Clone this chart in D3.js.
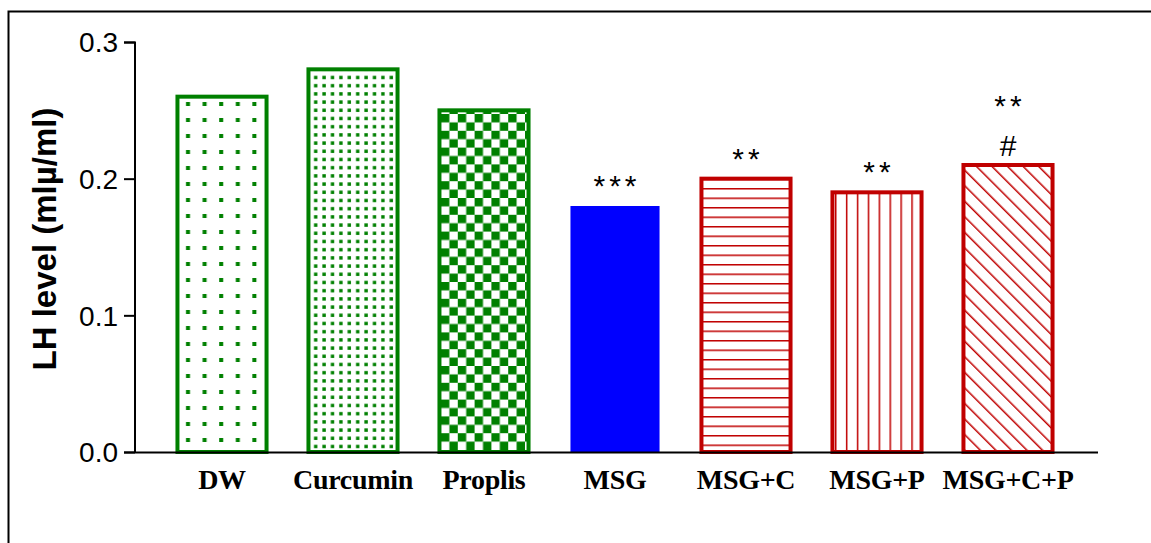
<!DOCTYPE html>
<html><head><meta charset="utf-8">
<script src="https://cdn.jsdelivr.net/npm/d3@7"></script>
<style>body{margin:0;background:#fff}svg{display:block}</style>
</head><body>
<svg id="c" width="1151" height="543"></svg>
<script>
const categories = ["DW","Curcumin","Proplis","MSG","MSG+C","MSG+P","MSG+C+P"];
const values = [0.26,0.28,0.25,0.18,0.20,0.19,0.21];
const patterns = ["dotsLarge","dotsSmall","checker","solid","hlines","vlines","diag"];
const colors = ["#008000","#008000","#008000","#0000ff","#c00000","#c00000","#c00000"];
const sigTop = ["","","","***","**","**","**"];
const sigHash = ["","","","","","","#"];
const yTicks = [0.0,0.1,0.2,0.3];

const svg = d3.select("#c");
const defs = svg.append("defs");
const G = "#008000", R = "#c00000";

// patterns
let p = defs.append("pattern").attr("id","dotsLarge").attr("patternUnits","userSpaceOnUse").attr("width",16.6).attr("height",16).attr("x",178).attr("y",0);
p.append("rect").attr("x",8).attr("y",6).attr("width",4).attr("height",4).attr("fill",G);
p = defs.append("pattern").attr("id","dotsSmall").attr("patternUnits","userSpaceOnUse").attr("width",8.4).attr("height",8.2).attr("x",310).attr("y",0);
p.append("rect").attr("x",4).attr("y",2).attr("width",3.4).attr("height",3.4).attr("fill",G);
p = defs.append("pattern").attr("id","checker").attr("patternUnits","userSpaceOnUse").attr("width",16.8).attr("height",16.8).attr("x",441).attr("y",114);
p.append("rect").attr("width",8.4).attr("height",8.4).attr("fill",G);
p.append("rect").attr("x",8.4).attr("y",8.4).attr("width",8.4).attr("height",8.4).attr("fill",G);
p = defs.append("pattern").attr("id","hlines").attr("patternUnits","userSpaceOnUse").attr("width",10).attr("height",9.5).attr("x",0).attr("y",188);
p.append("rect").attr("y",0).attr("width",10).attr("height",1.5).attr("fill",R);
p = defs.append("pattern").attr("id","vlines").attr("patternUnits","userSpaceOnUse").attr("width",10.9).attr("height",10).attr("x",835).attr("y",0);
p.append("rect").attr("x",0).attr("width",1.5).attr("height",10).attr("fill",R);
p = defs.append("pattern").attr("id","diag").attr("patternUnits","userSpaceOnUse").attr("width",11).attr("height",11).attr("patternTransform","rotate(-45)");
p.append("rect").attr("x",0).attr("width",1.5).attr("height",11).attr("fill",R);

// frame
svg.append("path").attr("d","M8.5,560 V11.5 H1160").attr("fill","none").attr("stroke","#000").attr("stroke-width",2);

const y = d3.scaleLinear().domain([0,0.3]).range([452,42]);
const x = d3.scaleBand().domain(categories).range([156.5,1073.5]).paddingInner(0.32).paddingOuter(0.16);

// y axis
const yAxis = svg.append("g").attr("transform","translate(135,0)")
  .call(d3.axisLeft(y).tickValues(yTicks).tickFormat(d3.format(".1f")).tickSize(11).tickPadding(6));
yAxis.select(".domain").attr("stroke","#000").attr("stroke-width",2).attr("d","M-11,42.5H0V452.5");
yAxis.selectAll(".tick line").attr("stroke","#000").attr("stroke-width",2);
yAxis.selectAll(".tick text").attr("font-family","Arial, 'Liberation Sans', sans-serif").attr("font-size",28).attr("fill","#000").attr("dy","0.35em");

// bars
const bars = svg.append("g");
categories.forEach((c,i)=>{
  const x0 = x(c), w = x.bandwidth(), y0 = y(values[i]);
  const fill = patterns[i]==="solid" ? colors[i] : "url(#"+patterns[i]+")";
  bars.append("rect").attr("x",x0).attr("y",y0).attr("width",w).attr("height",y(0)-y0)
    .attr("fill","#fff");
  bars.append("rect").attr("x",x0).attr("y",y0).attr("width",w).attr("height",y(0)-y0)
    .attr("fill",fill)
    .attr("stroke",patterns[i]==="solid" ? "none" : colors[i])
    .attr("stroke-width",4);
});

// x axis
svg.append("line").attr("x1",124).attr("x2",1098).attr("y1",452.5).attr("y2",452.5).attr("stroke","#000").attr("stroke-width",2);
svg.append("g").selectAll("text").data(categories).join("text")
  .attr("x",d=>x(d)+x.bandwidth()/2).attr("y",489)
  .attr("text-anchor","middle")
  .attr("font-family","'Liberation Serif', 'Times New Roman', serif").attr("font-weight","bold").attr("font-size",28)
  .attr("letter-spacing",-0.3)
  .text(d=>d);

// significance marks
svg.append("g").selectAll("text").data(categories).join("text")
  .attr("x",d=>x(d)+x.bandwidth()/2 + 2)
  .attr("y",(d,i)=> sigHash[i] ? y(values[i]) - 49 : y(values[i]) - 10)
  .attr("text-anchor","middle")
  .attr("font-family","Arial, 'Liberation Sans', sans-serif").attr("font-size",30)
  .attr("letter-spacing",4)
  .text((d,i)=>sigTop[i]);
svg.append("g").selectAll("text").data(categories).join("text")
  .attr("x",d=>x(d)+x.bandwidth()/2)
  .attr("y",(d,i)=> y(values[i]) - 9)
  .attr("text-anchor","middle")
  .attr("font-family","Arial, 'Liberation Sans', sans-serif").attr("font-size",30)
  .text((d,i)=>sigHash[i]);

// y title
svg.append("text").attr("transform","translate(56,239) rotate(-90)")
  .attr("text-anchor","middle")
  .attr("font-family","Arial, 'Liberation Sans', sans-serif").attr("font-weight","bold").attr("font-size",33)
  .text("LH level (mlµ/ml)");
</script>
</body></html>
